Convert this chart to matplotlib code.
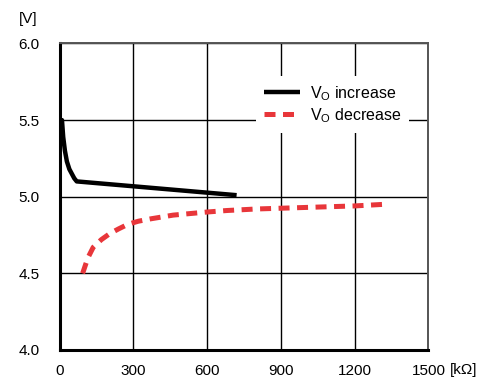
import matplotlib.pyplot as plt
import numpy as np

plt.rcParams['font.family'] = ['Liberation Sans', 'DejaVu Sans']

# V_O increase (black)
inc_r = [2, 6, 10, 15, 22, 30, 40, 50, 60, 70, 720]
inc_v = [5.40, 5.47, 5.50, 5.39, 5.30, 5.23, 5.18, 5.15, 5.12, 5.10, 5.01]

# V_O decrease (red dashed)
dec_r = [94, 115, 137, 170, 205, 240, 278, 320, 368, 462, 598, 680, 800, 1000, 1200, 1315]
dec_v = [4.50, 4.60, 4.67, 4.72, 4.76, 4.79, 4.82, 4.84, 4.855, 4.88, 4.90, 4.91, 4.92, 4.93, 4.94, 4.95]

xticks = [0, 300, 600, 900, 1200, 1500]
yticks = [4.0, 4.5, 5.0, 5.5, 6.0]

fig = plt.figure(figsize=(4.91, 3.83), dpi=100)
ax = fig.add_axes([0.1212, 0.0862, 0.7515, 0.8003])

ax.plot(inc_r, inc_v, color='black', lw=3.2, solid_capstyle='butt',
        label='V$_\\mathregular{O}$ increase', zorder=3)
ax.plot(dec_r, dec_v, color='#e8363a', lw=3.6, dashes=(2.2, 1.5),
        label='V$_\\mathregular{O}$ decrease', zorder=3)

ax.set_xlim(0, 1500)
ax.set_ylim(4.0, 6.0)
ax.set_xticks(xticks)
ax.set_yticks(yticks)
ax.set_xticklabels([str(t) for t in xticks])
ax.set_yticklabels(['%.1f' % t for t in yticks])
ax.tick_params(length=0, labelsize=11, pad=10)
ax.tick_params(axis='y', pad=14.5)
ax.grid(True, color='black', lw=1.0)
ax.set_axisbelow(True)

for s in ['left', 'bottom']:
    ax.spines[s].set_linewidth(2.2)
    ax.spines[s].set_color('black')
for s in ['top', 'right']:
    ax.spines[s].set_linewidth(1.4)
    ax.spines[s].set_color('#555555')

fig.text(19 / 491, 1 - 19 / 383, '[V]', fontsize=11, va='center', ha='left')
fig.text(450 / 491, 1 - 370 / 383, '[k\u03a9]', fontsize=11, va='center', ha='left')

leg = ax.legend(loc='upper left', bbox_to_anchor=(0.51, 0.92), frameon=True,
                fancybox=False, edgecolor='none', framealpha=1.0,
                fontsize=11.5, handlelength=2.3, labelspacing=0.2,
                handletextpad=0.6, borderpad=0.5)

fig.savefig('out.png', dpi=100)
